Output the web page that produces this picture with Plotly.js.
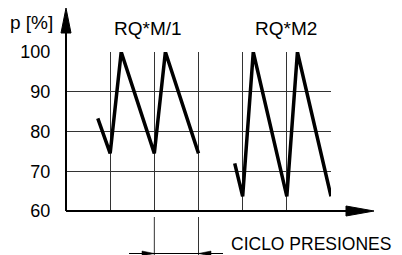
<!DOCTYPE html>
<html>
<head>
<meta charset="utf-8">
<script src="https://cdn.plot.ly/plotly-3.0.1.min.js"></script>
<style>html,body{margin:0;padding:0;background:#fff;}#chart{width:402px;height:255px;}</style>
</head>
<body>
<div id="chart"></div>
<script>
// Data (x in pressure-cycle units, y in %)
const cycleA = [0.72, 1, 1.25, 2, 2.25, 3];
const pressureA = [83.3, 74.5, 100, 74.5, 100, 74.5];
const cycleB = [3.82, 4, 4.24, 5, 5.24, 6];
const pressureB = [72, 63.7, 100, 63.7, 100, 63.7];
const yTicks = [60, 70, 80, 90, 100];
const yTickText = ['60', '70', '80', '90', '100'];
const seriesLabels = ['RQ*M/1', 'RQ*M2'];
const yLabel = 'p [%]';
const xLabel = 'CICLO PRESIONES';

const FONT = 'Liberation Sans, Arial, Helvetica, sans-serif';
const W = 402, H = 255, L = 66, R = 71, T = 52, B = 44;
const pw = W - L - R, ph = H - T - B;
const px = p => (p - L) / pw;        // pixel -> paper x
const py = p => (H - B - p) / ph;    // pixel -> paper y

const lineStyle = {color: '#000', width: 3.5};
const traces = [
  {x: cycleA, y: pressureA, mode: 'lines', line: lineStyle, cliponaxis: false, hoverinfo: 'skip'},
  {x: cycleB, y: pressureB, mode: 'lines', line: lineStyle, cliponaxis: false, hoverinfo: 'skip'}
];

const shapes = [
  // y axis extension + arrow
  {type: 'line', xref: 'paper', yref: 'paper', x0: 0, x1: 0, y0: 0, y1: py(30), line: {color: '#000', width: 2}},
  {type: 'path', xref: 'paper', yref: 'paper',
   path: `M ${px(66)} ${py(8)} L ${px(61)} ${py(33)} L ${px(71)} ${py(33)} Z`,
   fillcolor: '#000', line: {color: '#000', width: 1}},
  // x axis extension + arrow
  {type: 'line', xref: 'paper', yref: 'paper', x0: 0, x1: px(348), y0: 0, y1: 0, line: {color: '#000', width: 2}},
  {type: 'path', xref: 'paper', yref: 'paper',
   path: `M ${px(374)} ${py(211)} L ${px(346)} ${py(206)} L ${px(346)} ${py(216)} Z`,
   fillcolor: '#000', line: {color: '#000', width: 1}},
  // dimension lines below the axis
  {type: 'line', xref: 'paper', yref: 'paper', x0: 2/6, x1: 2/6, y0: py(217), y1: py(256), line: {color: '#333', width: 1}},
  {type: 'line', xref: 'paper', yref: 'paper', x0: 3/6, x1: 3/6, y0: py(217), y1: py(256), line: {color: '#333', width: 1}},
  {type: 'line', xref: 'paper', yref: 'paper', x0: px(129), x1: px(223), y0: py(253.5), y1: py(253.5), line: {color: '#000', width: 1}},
  {type: 'path', xref: 'paper', yref: 'paper',
   path: `M ${2/6} ${py(253.5)} L ${px(142)} ${py(251)} L ${px(142)} ${py(256)} Z`,
   fillcolor: '#000', line: {color: '#000', width: 0.5}},
  {type: 'path', xref: 'paper', yref: 'paper',
   path: `M ${3/6} ${py(253.5)} L ${px(211)} ${py(251)} L ${px(211)} ${py(256)} Z`,
   fillcolor: '#000', line: {color: '#000', width: 0.5}}
];

const annotations = [
  {text: seriesLabels[0], xref: 'paper', yref: 'paper', x: px(148), y: py(28), xanchor: 'center', yanchor: 'middle', showarrow: false, font: {family: FONT, size: 19, color: '#000'}},
  {text: seriesLabels[1], xref: 'paper', yref: 'paper', x: px(286), y: py(28), xanchor: 'center', yanchor: 'middle', showarrow: false, font: {family: FONT, size: 19, color: '#000'}},
  {text: yLabel, xref: 'paper', yref: 'paper', x: px(31), y: py(22), xanchor: 'center', yanchor: 'middle', showarrow: false, font: {family: FONT, size: 19, color: '#000'}},
  {text: xLabel, xref: 'paper', yref: 'paper', x: px(311), y: py(243.5), xanchor: 'center', yanchor: 'middle', showarrow: false, font: {family: FONT, size: 17.5, color: '#000'}}
];

const layout = {
  width: W, height: H,
  margin: {l: L, r: R, t: T, b: B, pad: 0},
  paper_bgcolor: '#fff', plot_bgcolor: '#fff',
  showlegend: false,
  xaxis: {range: [0, 6], dtick: 1, tick0: 0, showgrid: true, gridcolor: '#333', gridwidth: 1,
          zeroline: false, showline: false, showticklabels: false, ticks: '', fixedrange: true},
  yaxis: {range: [60, 100], tickvals: yTicks, ticktext: yTickText, showgrid: true, gridcolor: '#333', gridwidth: 1,
          zeroline: false, showline: false, ticks: 'outside', ticklen: 11, tickcolor: 'rgba(0,0,0,0)',
          tickfont: {family: FONT, size: 18, color: '#000'}, fixedrange: true},
  shapes: shapes,
  annotations: annotations
};

Plotly.newPlot('chart', traces, layout, {staticPlot: true, displayModeBar: false});
</script>
</body>
</html>
